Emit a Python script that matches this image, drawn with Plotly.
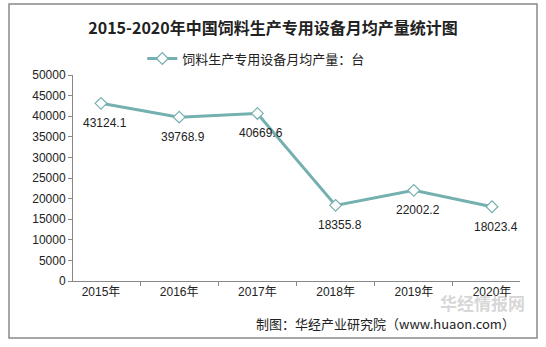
import plotly.graph_objects as go

years = ["2015年", "2016年", "2017年", "2018年", "2019年", "2020年"]
values = [43124.1, 39768.9, 40669.6, 18355.8, 22002.2, 18023.4]
labels = ["43124.1", "39768.9", "40669.6", "18355.8", "22002.2", "18023.4"]
series_name = "饲料生产专用设备月均产量：台"
title = "2015-2020年中国饲料生产专用设备月均产量统计图"
source = "制图：华经产业研究院（www.huaon.com）"

teal = "#74B0AF"

fig = go.Figure()
fig.add_trace(go.Scatter(
    x=years, y=values, mode="lines+markers", name=series_name,
    line=dict(color=teal, width=3),
    marker=dict(symbol="diamond", size=9, color="white", line=dict(color=teal, width=1.2)),
))

for yr, v, lab in zip(years, values, labels):
    fig.add_annotation(x=yr, y=v, text=lab, showarrow=False, yshift=-20, xshift=4,
                       font=dict(family="Arial, Liberation Sans", size=12, color="#222"))

fig.update_layout(
    width=546, height=347,
    margin=dict(l=73, r=26, t=75, b=66),
    paper_bgcolor="white", plot_bgcolor="white",
    title=dict(text="<b>" + title + "</b>", x=0.5, xanchor="center", y=1 - 28/347, yanchor="middle",
               font=dict(family="Noto Sans CJK SC", size=16, color="#222")),
    showlegend=True,
    legend=dict(orientation="h", x=0.41, xanchor="center", y=1.08, yanchor="middle",
                font=dict(family="Noto Sans CJK SC", size=13, color="#222"), bgcolor="rgba(0,0,0,0)"),
    xaxis=dict(showline=True, linecolor="#888", linewidth=1, ticks="outside", ticklen=4, tickcolor="#888",
               tickson="boundaries", showgrid=False,
               tickfont=dict(family="Arial, Noto Sans CJK SC", size=12, color="#222")),
    yaxis=dict(range=[0, 50000], dtick=5000, showline=True, linecolor="#888", linewidth=1,
               ticks="outside", ticklen=4, tickcolor="#888", showgrid=False, zeroline=False,
               tickformat="d",
               tickfont=dict(family="Arial, Liberation Sans", size=12, color="#222")),
)

# outer border
fig.add_shape(type="rect", xref="paper", yref="paper", x0=-64/447, x1=464/447, y0=-57/206, y1=277/206,
              line=dict(color="#888", width=1.5), fillcolor="rgba(0,0,0,0)", layer="below")

fig.add_annotation(text=source, xref="paper", yref="paper", x=(517-73)/447, xanchor="right",
                   y=(281-323)/206, yanchor="middle", showarrow=False,
                   font=dict(family="Noto Sans CJK SC", size=13, color="#222"))
fig.add_annotation(text="<b>华经情报网</b>", xref="paper", yref="paper", x=(527-73)/447, xanchor="right",
                   y=(281-302)/206, yanchor="middle", showarrow=False,
                   font=dict(family="Noto Sans CJK SC", size=17, color="rgba(150,150,150,0.4)"))

fig.write_html("out.html")
